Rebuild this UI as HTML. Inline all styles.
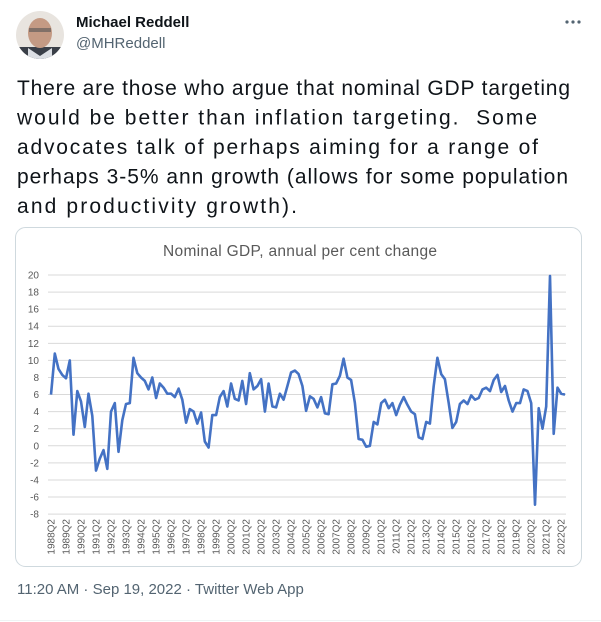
<!DOCTYPE html>
<html><head><meta charset="utf-8"><style>
html,body{margin:0;padding:0;background:#fff;width:601px;height:622px;overflow:hidden}
body{font-family:"Liberation Sans",Arial,sans-serif}
</style></head><body>
<svg id="s" width="601" height="622" xmlns="http://www.w3.org/2000/svg" style="position:absolute;left:0;top:0">
<defs><clipPath id="av"><circle cx="40" cy="35" r="24"/></clipPath></defs>
<g clip-path="url(#av)">
<rect x="16" y="11" width="48" height="48" fill="#e8e4df"/>
<rect x="16" y="47" width="48" height="14" fill="#3a3f48"/>
<ellipse cx="40" cy="33" rx="12" ry="15" fill="#c49a84"/>
<rect x="29" y="28" width="22" height="4" fill="#555" opacity="0.6"/>
<path d="M28 48 L40 56 L52 48 L52 60 L28 60Z" fill="#dcdfe4"/>
</g>
<text x="76" y="27" font-size="15" font-weight="bold" fill="#0f1419">Michael Reddell</text>
<text x="76" y="48" font-size="15" fill="#536471">@MHReddell</text>
<g fill="#536471"><circle cx="567" cy="22" r="1.6"/><circle cx="573" cy="22" r="1.6"/><circle cx="579" cy="22" r="1.6"/></g>
<g font-size="21" fill="#0f1419">
<text x="17" y="95" textLength="553" lengthAdjust="spacing">There are those who argue that nominal GDP targeting</text>
<text x="17" y="124.5" textLength="520" lengthAdjust="spacing" xml:space="preserve">would be better than inflation targeting.  Some</text>
<text x="17" y="154" textLength="521" lengthAdjust="spacing">advocates talk of perhaps aiming for a range of</text>
<text x="17" y="183.5" textLength="551" lengthAdjust="spacing">perhaps 3-5% ann growth (allows for some population</text>
<text x="17" y="213" textLength="280" lengthAdjust="spacing">and productivity growth).</text>
</g>
<rect x="15.5" y="227.5" width="566" height="339" rx="10" fill="#fff" stroke="#cfd9de"/>
<text x="163" y="256" font-size="15.5" fill="#595959" textLength="274" lengthAdjust="spacing">Nominal GDP, annual per cent change</text>
<g id="grid"></g>
<polyline id="line" fill="none" stroke="#4472c4" stroke-width="2.6" stroke-linejoin="round"/>
<g id="xl" font-size="10" fill="#595959"></g>
<text x="17" y="594" font-size="15" fill="#536471">11:20 AM · Sep 19, 2022 · Twitter Web App</text>
<line x1="0" y1="620.5" x2="601" y2="620.5" stroke="#eff3f4"/>
</svg>
<script>
var NS="http://www.w3.org/2000/svg";
var y0=445.8,k=8.54,xa=51,xb=565;
function Y(v){return y0-v*k}
var g=document.getElementById('grid');
for(var v=20;v>=-8;v-=2){
 var l=document.createElementNS(NS,'line');l.setAttribute('x1',48);l.setAttribute('x2',566);
 l.setAttribute('y1',Y(v));l.setAttribute('y2',Y(v));l.setAttribute('stroke','#d9d9d9');l.setAttribute('stroke-width','1');g.appendChild(l);
 var t=document.createElementNS(NS,'text');t.setAttribute('x',39);t.setAttribute('y',Y(v)+3.5);t.setAttribute('text-anchor','end');
 t.setAttribute('font-size','10');t.setAttribute('fill','#595959');t.textContent=v;g.appendChild(t);
}
var d=[6,10.8,9,8.3,7.9,10,1.3,6.4,5.2,2.2,6.1,3.5,-2.9,-1.5,-0.5,-2.7,4,5,-0.7,3,4.9,5,10.3,8.5,8,7.6,6.6,8,5.6,7.3,6.8,6.1,6.1,5.7,6.7,5.4,2.7,4.3,4,2.6,3.9,0.5,-0.2,3.6,3.6,5.7,6.4,4.6,7.3,5.5,5.3,7.6,4.9,8.5,6.6,7,7.8,4,7.3,4.6,4.5,6.1,5.4,7,8.6,8.8,8.4,7,4.1,5.8,5.5,4.5,5.7,3.8,3.7,7.2,7.3,8.2,10.2,8,7.7,5,0.8,0.7,-0.1,0,2.8,2.5,5,5.4,4.4,5,3.6,4.8,5.7,4.8,4,3.7,1,0.8,2.8,2.6,7,10.3,8.4,7.8,5,2.1,2.8,4.9,5.3,4.9,5.9,5.4,5.6,6.6,6.8,6.4,7.7,8.3,6.3,7,5.3,4,5,5,6.6,6.4,5,-6.9,4.4,2,4.6,19.9,1.4,6.8,6.1,6];
var n=d.length,st=(xb-xa)/(n-1),pts=[];
for(var i=0;i<n;i++)pts.push((xa+i*st).toFixed(1)+','+Y(d[i]).toFixed(1));
document.getElementById('line').setAttribute('points',pts.join(' '));
var xl=document.getElementById('xl');
for(var yr=1988,i=0;yr<=2022;yr++,i+=4){
 var x=xa+i*st+3.5;var t=document.createElementNS(NS,'text');
 t.setAttribute('transform','translate('+x.toFixed(1)+',519) rotate(-90)');t.setAttribute('text-anchor','end');
 t.textContent=yr+'Q2';xl.appendChild(t);
}
</script>
</body></html>
